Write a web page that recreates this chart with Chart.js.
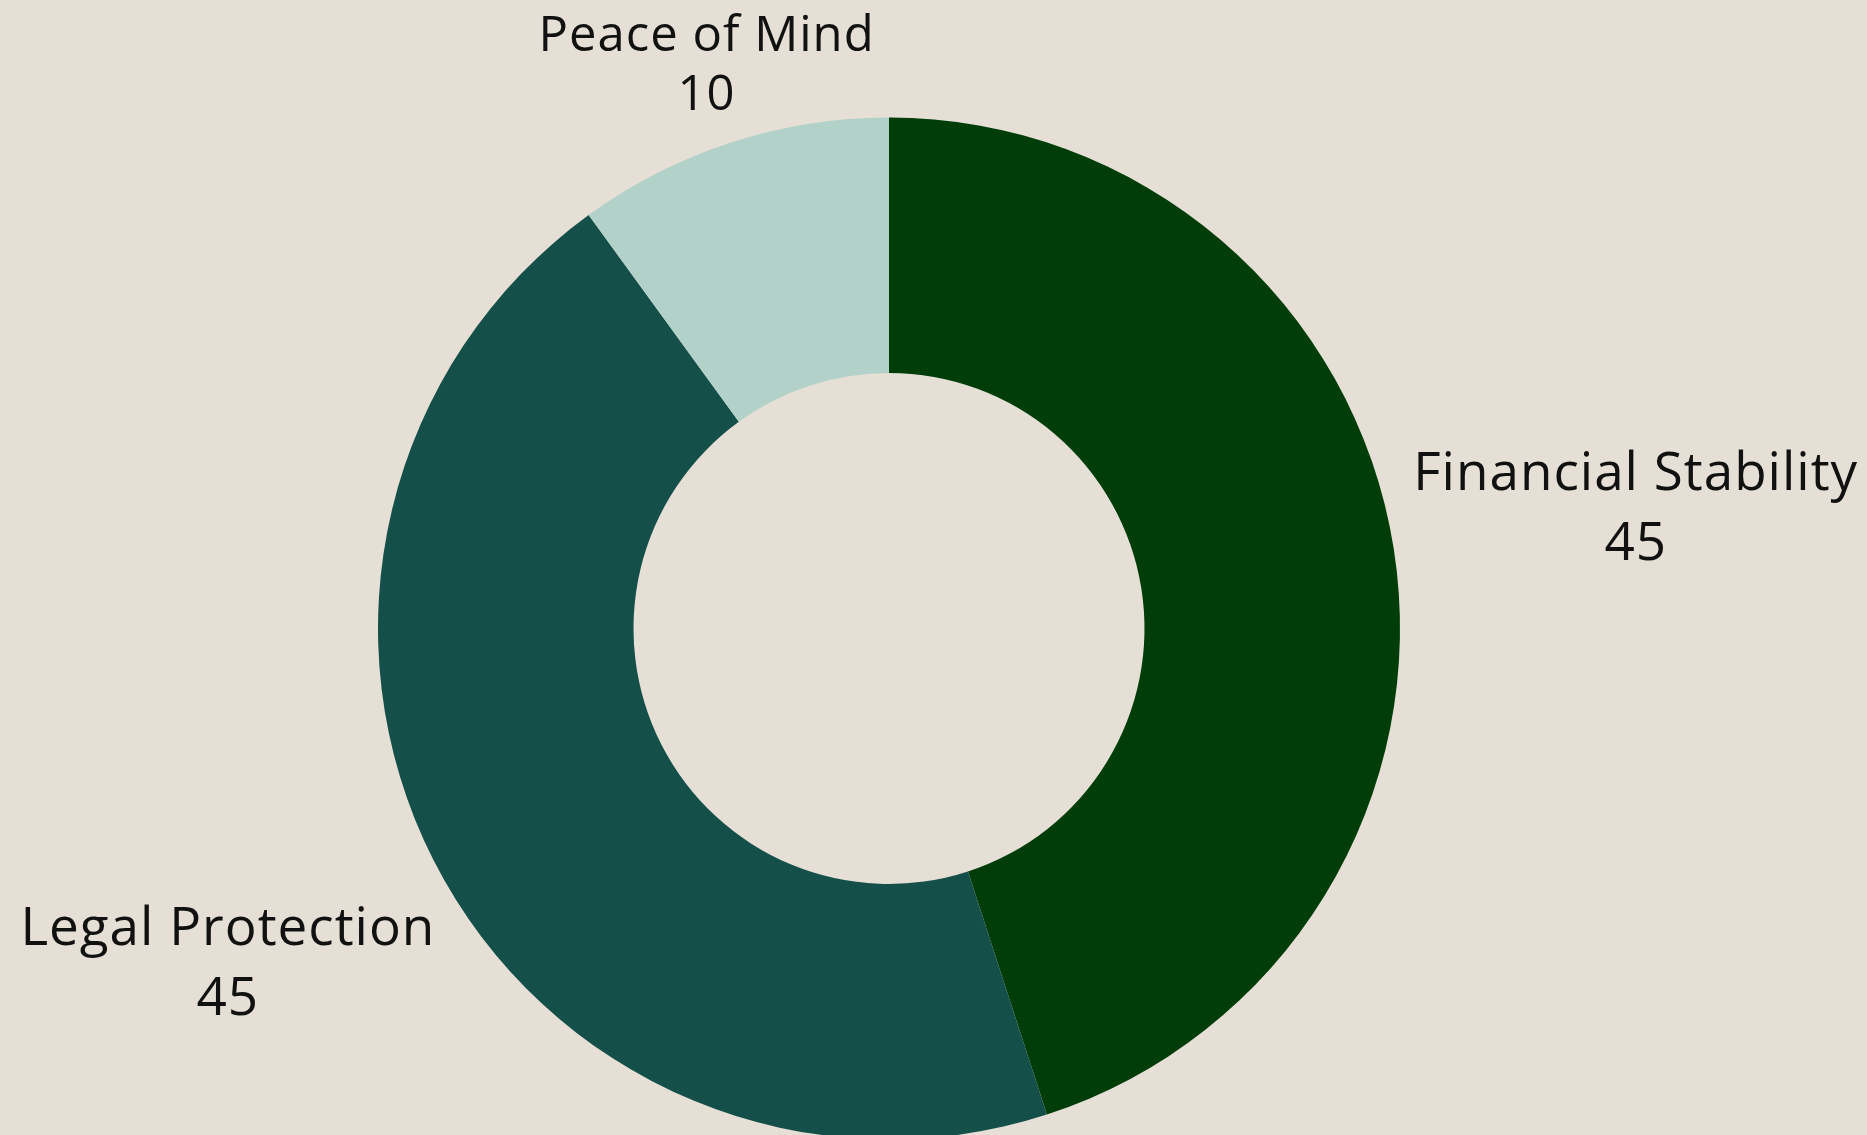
<!DOCTYPE html>
<html>
<head>
<meta charset="utf-8">
<title>Benefits</title>
<script src="https://cdn.jsdelivr.net/npm/chart.js@4.4.0/dist/chart.umd.min.js"></script>
<style>
  html, body { margin: 0; padding: 0; background: #e5dfd5; overflow: hidden; }
  .wrap { position: relative; width: 1867px; height: 1135px; overflow: hidden; }
  .box { position: absolute; left: 0; top: 0; width: 1867px; height: 1140px; }
</style>
</head>
<body>
<div class="wrap"><div class="box"><canvas id="donut"></canvas></div></div>
<script>
// slice data, clockwise from 12 o'clock
const labels = ['Financial Stability', 'Legal Protection', 'Peace of Mind'];
const values = [45, 45, 10];
const colors = ['#003d08', '#154f4a', '#b2d1c9'];

// label styling (the top label is shrunk to fit above the ring)
const labelStyle = {
    sizes: [53, 53, 49],
    lineHeights: [70, 70, 59],
    pad: 15,
    minTop: 8
};

// puts "name / value" outside each slice, box centre on the slice's mid ray
const outerLabels = {
    id: 'outerLabels',
    afterDatasetsDraw(chart) {
        const ctx = chart.ctx;
        const meta = chart.getDatasetMeta(0);
        ctx.save();
        ctx.fillStyle = '#111111';
        ctx.textAlign = 'center';
        ctx.textBaseline = 'middle';
        ctx.letterSpacing = '1px';
        meta.data.forEach((arc, i) => {
            ctx.font = labelStyle.sizes[i] + 'px "Open Sans", sans-serif';
            const lh = labelStyle.lineHeights[i];
            const lines = [labels[i], String(values[i])];
            const w = Math.max(...lines.map(t => ctx.measureText(t).width));
            const h = lines.length * lh;
            const mid = (arc.startAngle + arc.endAngle) / 2;
            const ux = Math.cos(mid), uy = Math.sin(mid);
            const minR = arc.outerRadius + labelStyle.pad;
            // grow distance until the nearest point of the box clears the ring
            let d = minR;
            for (; d < minR + 600; d += 1) {
                const cx = ux * d, cy = uy * d;
                const nx = Math.max(Math.abs(cx) - w / 2, 0);
                const ny = Math.max(Math.abs(cy) - h / 2, 0);
                if (Math.hypot(nx, ny) >= minR) break;
            }
            // keep the box inside the top edge
            if (uy < 0 && arc.y + uy * d - h / 2 < labelStyle.minTop) {
                d = (labelStyle.minTop + h / 2 - arc.y) / uy;
            }
            const x = arc.x + ux * d;
            const y = arc.y + uy * d;
            lines.forEach((t, k) => {
                ctx.fillText(t, x, y - h / 2 + lh * (k + 0.5));
            });
        });
        ctx.restore();
    }
};

new Chart(document.getElementById('donut'), {
    type: 'doughnut',
    data: {
        labels: labels,
        datasets: [{
            data: values,
            backgroundColor: colors,
            borderWidth: 0,
            hoverOffset: 0
        }]
    },
    options: {
        responsive: true,
        maintainAspectRatio: false,
        animation: false,
        cutout: '50%',
        layout: { padding: { top: 117, bottom: 0, left: 378, right: 467 } },
        plugins: {
            legend: { display: false },
            tooltip: { enabled: false }
        }
    },
    plugins: [outerLabels]
});
</script>
</body>
</html>
